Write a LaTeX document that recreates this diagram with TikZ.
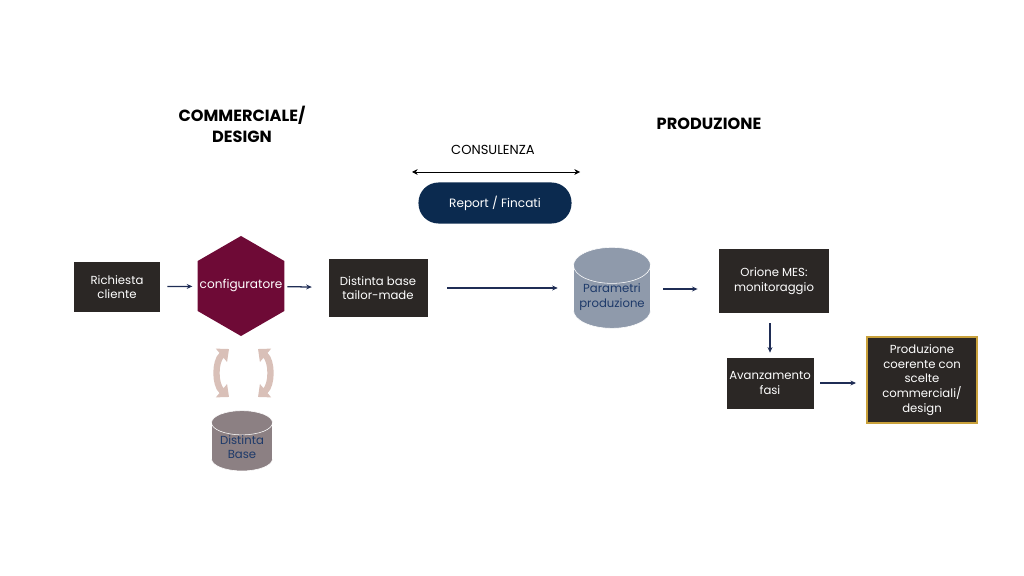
\documentclass[tikz,border=0pt]{standalone}
\usepackage{fontspec}
\setmainfont{Poppins}
\usetikzlibrary{shapes.geometric,arrows.meta}
\definecolor{boxbg}{HTML}{2B2725}
\definecolor{wine}{HTML}{6E0A36}
\definecolor{navy}{HTML}{0B2A4F}
\definecolor{arrowblue}{HTML}{1F2D55}
\definecolor{dbgrey}{HTML}{8F9AAB}
\definecolor{dbmauve}{HTML}{8C8083}
\definecolor{dbtext}{HTML}{1E3A6A}
\definecolor{gold}{HTML}{C9A13B}
\definecolor{loopclr}{HTML}{D9C0B8}
\begin{document}
\begin{tikzpicture}[x=0.025cm,y=-0.025cm,
  box/.style={fill=boxbg,text=white,align=center,inner sep=0pt,font=\fontsize{8.3}{10.5}\selectfont},
  dbnode/.style={cylinder,shape border rotate=90,aspect=0.55,draw=white,thin,text=dbtext,align=center,
    inner sep=0pt,minimum width=#1,font=\fontsize{8.3}{10.5}\selectfont},
  head/.style={font=\bfseries\fontsize{11.5}{15}\selectfont,align=center},
  flow/.style={-{Stealth[length=4pt,width=3.5pt]},arrowblue,line width=0.9pt},
  loop/.style={{Triangle[length=7pt,width=12pt]}-{Triangle[length=7pt,width=12pt]},loopclr,line width=4.5pt}]
\useasboundingbox (0,0) rectangle (1024,576);

% titles
\node[head] (tcomm) at (242,124) {COMMERCIALE/\\DESIGN};
\node[head] (tprod) at (709,124) {PRODUZIONE};
\node[font=\fontsize{9.3}{11}\selectfont] (tcons) at (493,150) {CONSULENZA};
\coordinate (consL) at (412,172);
\coordinate (consR) at (580,172);
\draw[{Stealth[length=4pt,width=4pt]}-{Stealth[length=4pt,width=4pt]},thin] (consL) -- (consR);
\node[fill=navy,text=white,rounded corners=0.5cm,minimum width=3.825cm,minimum height=1.025cm,
  font=\fontsize{8.6}{10}\selectfont] (report) at (495,203) {Report / Fincati};

% flow
\node[box,minimum width=86*0.025cm,minimum height=50*0.025cm] (rich) at (117,287) {Richiesta\\cliente};
\node[regular polygon,regular polygon sides=6,shape border rotate=90,fill=wine,text=white,inner sep=0pt,
  minimum size=2.5cm,font=\fontsize{8.6}{10}\selectfont] (cfg) at (241,286) {\makebox[0pt]{configuratore}};
\node[box,minimum width=99*0.025cm,minimum height=58*0.025cm] (dbtm) at (378,288) {Distinta base\\tailor-made};
\node[dbnode=1.925cm,fill=dbgrey,minimum height=1.5cm] (param) at (612,297) {Parametri\\produzione};
\node[box,minimum width=110*0.025cm,minimum height=64*0.025cm] (mes) at (774,281) {Orione MES:\\monitoraggio};
\node[box,minimum width=87*0.025cm,minimum height=51*0.025cm] (fasi) at (770,383) {Avanzamento\\fasi};
\node[box,draw=gold,line width=1.4pt,minimum width=110*0.025cm,minimum height=86*0.025cm] (prod) at (922,380)
  {Produzione\\coerente con\\scelte\\commerciali/\\design};
\node[dbnode=1.525cm,fill=dbmauve,minimum height=1.45cm] (dbase) at (242,447) {Distinta\\Base};

\draw[flow,shorten <=5pt,shorten >=3.6pt] (rich) -- (cfg);
\draw[flow,shorten <=2pt,shorten >=11.7pt] (cfg) -- (dbtm);
\draw[flow,shorten <=13.9pt,shorten >=11pt] (dbtm.east) -- (dbtm.east -| param.west);
\draw[flow,shorten <=8.9pt,shorten >=15pt] (param.east |- 0,289) -- (mes.west |- 0,289);
\draw[flow,shorten <=7.1pt,shorten >=3.2pt] (fasi |- mes.south) -- (fasi);
\draw[flow,shorten <=4.6pt,shorten >=7.1pt] (fasi) -- (prod.west |- fasi);

% loop between configuratore and base
\coordinate (l1) at (229,349);
\coordinate (l2) at (229,397);
\coordinate (r1) at (258,349);
\coordinate (r2) at (258,397);
\draw[loop] (l1) to[bend right=50] (l2);
\draw[loop] (r1) to[bend left=50] (r2);
\end{tikzpicture}
\end{document}
